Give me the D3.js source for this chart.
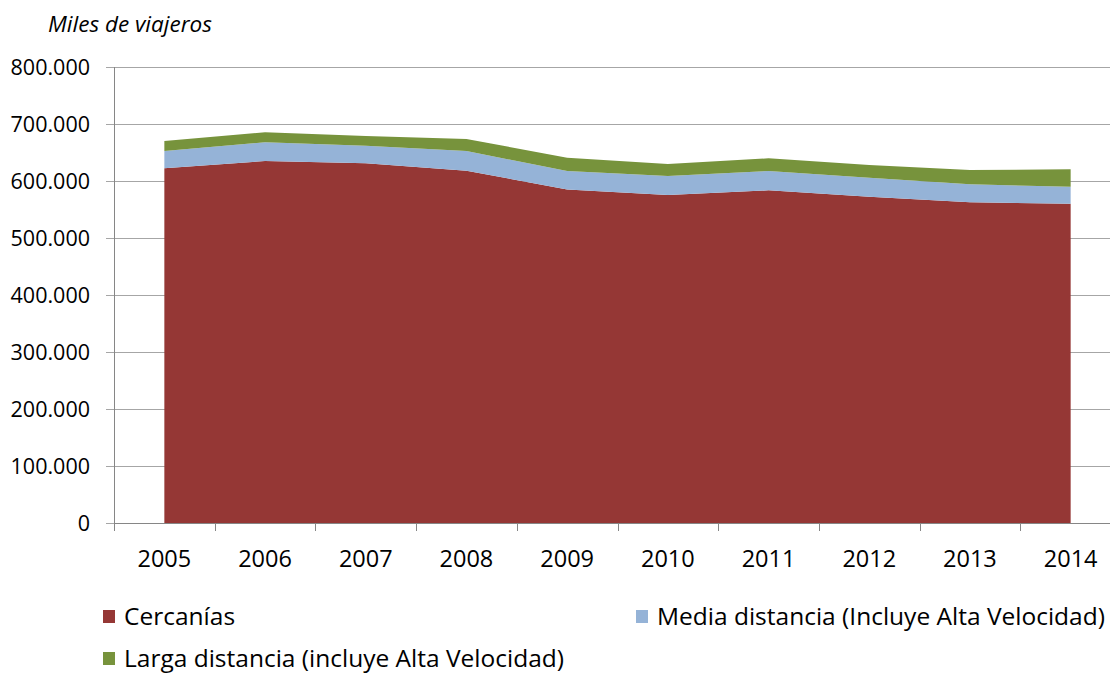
<!DOCTYPE html>
<html>
<head>
<meta charset="utf-8">
<script src="https://cdn.jsdelivr.net/npm/d3@7"></script>
<style>
  body { margin: 0; background: #fff; }
  text { font-family: "Open Sans", Lato, sans-serif; fill: #000; }
</style>
</head>
<body>
<script>
// data (miles de viajeros)
const years = ["2005", "2006", "2007", "2008", "2009", "2010", "2011", "2012", "2013", "2014"];
const cercanias = [622300, 635100, 631000, 618000, 585000, 575400, 583600, 572500, 562600, 560000];
const media = [30300, 32800, 31000, 34600, 32500, 33400, 33900, 33300, 31600, 30000];
const larga = [17600, 17500, 17000, 21100, 23500, 21000, 22300, 22200, 25100, 30500];
const yTicks = [0, 100000, 200000, 300000, 400000, 500000, 600000, 700000, 800000];

const seriesNames = ["Cercanías", "Media distancia (Incluye Alta Velocidad)", "Larga distancia (incluye Alta Velocidad)"];
const colors = ["#953735", "#95B3D7", "#77933C"];

const width = 1110, height = 675;
const plotLeft = 114, plotTop = 67, plotRight = 1121, plotBottom = 523;

const svg = d3.select("body").append("svg")
    .attr("width", width)
    .attr("height", height);

// build rows for the stack
const rows = years.map((y, i) => ({ year: y, c: cercanias[i], m: media[i], l: larga[i] }));
const stacked = d3.stack().keys(["c", "m", "l"])(rows);

const x = d3.scaleBand().domain(years).range([plotLeft, plotRight]);
const y = d3.scaleLinear().domain([0, 800000]).range([plotBottom, plotTop]);

// gridlines
svg.append("g")
    .selectAll("line")
    .data(yTicks)
    .enter()
    .append("line")
    .attr("x1", plotLeft - 8)
    .attr("x2", width)
    .attr("y1", d => y(d) + 0.5)
    .attr("y2", d => y(d) + 0.5)
    .attr("stroke", "#a6a6a6")
    .attr("stroke-width", 1);

// areas
const area = d3.area()
    .x(d => x(d.data.year) + x.bandwidth() / 2)
    .y0(d => y(d[0]))
    .y1(d => y(d[1]));

svg.append("g")
    .selectAll("path")
    .data(stacked)
    .enter()
    .append("path")
    .attr("fill", (d, i) => colors[i])
    .attr("d", area);

// y axis
svg.append("line")
    .attr("x1", plotLeft + 0.5).attr("x2", plotLeft + 0.5)
    .attr("y1", plotTop).attr("y2", plotBottom)
    .attr("stroke", "#868686");

svg.append("g")
    .selectAll("text")
    .data(yTicks)
    .enter()
    .append("text")
    .attr("x", 90)
    .attr("y", d => y(d))
    .attr("dy", "0.36em")
    .attr("text-anchor", "end")
    .style("font-size", "21.5px")
    .text(d => d3.format(",")(d).replace(/,/g, "."));

// x axis
svg.append("line")
    .attr("x1", plotLeft).attr("x2", width)
    .attr("y1", plotBottom + 0.5).attr("y2", plotBottom + 0.5)
    .attr("stroke", "#868686");

svg.append("g")
    .selectAll("line")
    .data(years)
    .enter()
    .append("line")
    .attr("x1", d => Math.round(x(d)) + 0.5)
    .attr("x2", d => Math.round(x(d)) + 0.5)
    .attr("y1", plotBottom)
    .attr("y2", plotBottom + 8)
    .attr("stroke", "#868686");

svg.append("g")
    .selectAll("text")
    .data(years)
    .enter()
    .append("text")
    .attr("x", d => x(d) + x.bandwidth() / 2)
    .attr("y", 567)
    .attr("text-anchor", "middle")
    .style("font-size", "23.5px")
    .text(d => d);

// axis title
svg.append("text")
    .attr("x", 48)
    .attr("y", 32)
    .style("font-size", "22.5px")
    .style("font-style", "italic")
    .text("Miles de viajeros");

// legend
const legendPos = [[103, 610], [636, 610], [103, 652]];
const legend = svg.append("g")
    .selectAll("g")
    .data(seriesNames)
    .enter()
    .append("g")
    .attr("transform", (d, i) => "translate(" + legendPos[i][0] + "," + legendPos[i][1] + ")");

legend.append("rect")
    .attr("width", 12)
    .attr("height", 13)
    .attr("fill", (d, i) => colors[i]);

legend.append("text")
    .attr("x", 21)
    .attr("y", 15)
    .style("font-size", "24.5px")
    .text(d => d);
</script>
</body>
</html>
